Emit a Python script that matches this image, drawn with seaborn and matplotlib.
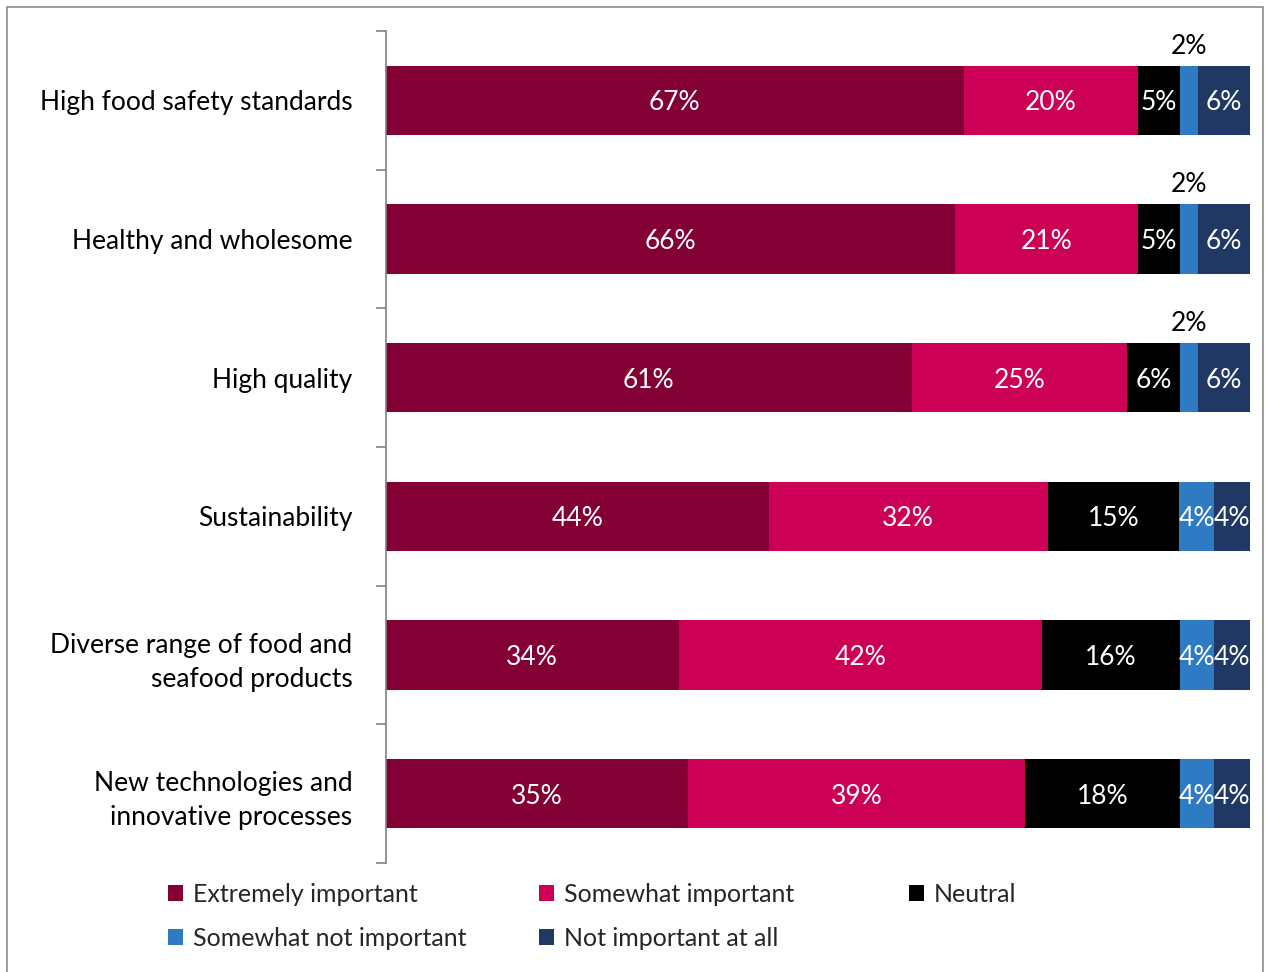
import numpy as np
import pandas as pd
import seaborn as sns
import matplotlib.pyplot as plt
from matplotlib.patches import Patch, Rectangle

categories = [
    "High food safety standards",
    "Healthy and wholesome",
    "High quality",
    "Sustainability",
    "Diverse range of food and\nseafood products",
    "New technologies and\ninnovative processes",
]
levels = [
    "Extremely important",
    "Somewhat important",
    "Neutral",
    "Somewhat not important",
    "Not important at all",
]
extremely = [66.9, 65.9, 60.9, 44.3, 33.9, 35.0]
somewhat = [20.1, 21.1, 24.9, 32.3, 42.0, 39.0]
neutral = [4.9, 4.9, 6.1, 15.2, 16.0, 17.9]
somewhat_not = [2.1, 2.1, 2.1, 4.1, 4.0, 4.0]
not_at_all = [6.0, 6.0, 6.0, 4.1, 4.1, 4.1]
colors = ["#820033", "#CC0055", "#000000", "#2E7BC4", "#1F3864"]

series = [extremely, somewhat, neutral, somewhat_not, not_at_all]
df = pd.DataFrame(dict(zip(levels, series)), index=categories)
cum = df.cumsum(axis=1)

sns.set_style("white")
plt.rcParams["font.family"] = ["Lato", "DejaVu Sans"]

fig = plt.figure(figsize=(12.65, 9.72), dpi=100)
ax = fig.add_axes([0.305, 0.112, 0.683, 0.856])

# overlay cumulative totals, longest first, to get stacked bars
for lev, col in reversed(list(zip(levels, colors))):
    sns.barplot(x=cum[lev].values, y=categories, color=col, width=0.5,
                orient="h", ax=ax, saturation=1, linewidth=0)

for i, cat in enumerate(categories):
    left = 0
    for lev in levels:
        v = df.loc[cat, lev]
        txt = f"{v:.0f}%"
        if v < 3:
            ax.text(left + v / 2, i - 0.41, txt, ha="center", va="center_baseline",
                    color="black", fontsize=19)
        else:
            ax.text(left + v / 2, i, txt, ha="center", va="center_baseline",
                    color="white", fontsize=19)
        left += v

ax.set_xlim(0, 100)
ax.set_ylim(len(categories) - 0.5, -0.5)
ax.set_xticks([])
ax.set_yticks(np.arange(-0.5, len(categories)), labels=[""] * (len(categories) + 1))
ax.set_yticks(np.arange(len(categories)), labels=categories, minor=True)
ax.tick_params(axis="y", which="major", length=7, width=1.2, color="#808080", direction="out", left=True)
ax.tick_params(axis="y", which="minor", length=0, pad=24, labelsize=19, labelcolor="black")
for lab in ax.get_yticklabels(minor=True):
    lab.set_multialignment("right")
    lab.set_linespacing(1.45)
for s in ["top", "right", "bottom"]:
    ax.spines[s].set_visible(False)
ax.spines["left"].set_color("#808080")
ax.spines["left"].set_linewidth(1.2)
ax.set_xlabel("")
ax.set_ylabel("")

# legend: three equal columns, laid out row by row
handles = [Patch(facecolor=c, edgecolor="none") for c in colors]
columns = [[0, 3], [1, 4], [2]]
col_x = [168, 539, 909]
for idx, x in zip(columns, col_x):
    fig.legend([handles[k] for k in idx], [levels[k] for k in idx],
               loc="upper left", bbox_to_anchor=(x / 1265, 0.092),
               frameon=False, fontsize=18, handlelength=0.6, handleheight=0.6,
               handletextpad=0.4, labelspacing=0.85, borderpad=0,
               borderaxespad=0)

fig.patches.append(Rectangle((7 / 1265, -0.05), 1256 / 1265, 1.05 - 7 / 972,
                             transform=fig.transFigure, fill=False,
                             edgecolor="#8c8c8c", linewidth=1.2))

fig.savefig("out.png", dpi=100)
